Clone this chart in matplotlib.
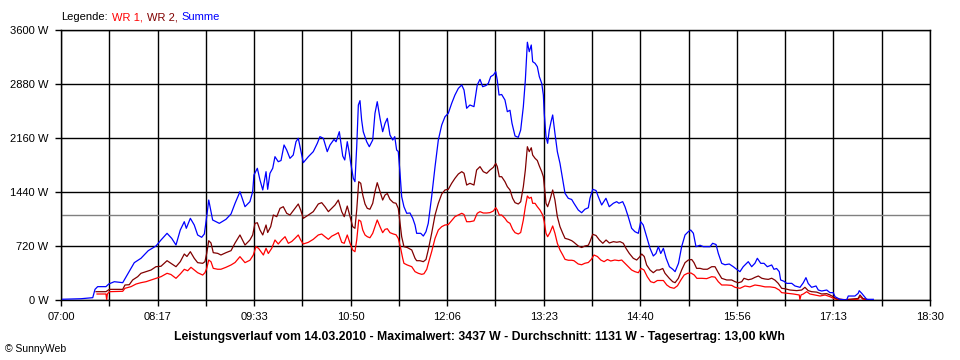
import matplotlib
matplotlib.use("Agg")
import matplotlib.pyplot as plt
from matplotlib.offsetbox import TextArea, HPacker, AnchoredOffsetbox
import numpy as np

plt.rcParams['font.family'] = ['Liberation Sans', 'DejaVu Sans']

##Data (times in minutes after 07:00, power in W)
time_labels = ["07:00", "08:17", "09:33", "10:50", "12:06", "13:23", "14:40", "15:56", "17:13", "18:30"]
day_span = 690  # 07:00 -> 18:30
average = 1131  # Durchschnitt, W

t_sum = [1.3, 15.9, 25.2, 27, 29.1, 35.7, 37.9, 42.3, 49, 53,
         58.2, 63.5, 69.3, 75.4, 79.4, 84.2, 87.9, 91.3, 94.7, 97.9,
         99.5, 102.7, 105.8, 108.5, 111.7, 113.8, 115.7, 117.3, 120.4, 125.7,
         131, 135, 138.2, 142.1, 146.1, 150, 152.2, 153.2, 155.9, 158,
         160.2, 162.8, 164.1, 165.9, 168.1, 169.9, 172.5, 174.7, 177.1, 179.2,
         181.8, 184.4, 186.6, 188.4, 190.3, 192.4, 196.4, 200.3, 203.5, 205.6,
         208.3, 211.4, 213.6, 216.8, 218.4, 221, 223.7, 225.3, 227.3, 228.7,
         230, 232.1, 233.4, 234.8, 236.1, 237.4, 238.7, 240, 242.7, 244.8,
         247.5, 249.3, 251.1, 253.3, 255.4, 257.3, 259.1, 261.2, 263.4, 265,
         266.5, 267.8, 269.2, 270.5, 272.3, 274.5, 277.1, 279.3, 281.1, 282.4,
         285.6, 287.7, 289.8, 291.6, 294.3, 297, 299.6, 302.3, 304.9, 307.5,
         310.2, 312.8, 315.5, 318.2, 320, 322.1, 324.7, 327.9, 330.5, 332.7,
         334.8, 337.5, 339.3, 341.2, 343.3, 345.2, 346.4, 347.8, 349.9, 352.5,
         354.4, 356.5, 358.1, 360.5, 363.1, 365, 367.1, 368.7, 370.3, 371.8,
         373.4, 374.5, 376.4, 378.2, 379.8, 381.7, 383, 383.7, 385.1, 386.4,
         387.7, 389.1, 390.4, 392.2, 394.1, 396.2, 398.4, 400.2, 402.8, 405.5,
         407.3, 410.7, 413.4, 416, 418.7, 420, 422.2, 424.8, 426.6, 429.3,
         432.7, 435.3, 438.6, 441.2, 443, 446, 447.8, 450.4, 453.1, 455.7,
         458.4, 460.3, 462.3, 465, 467.7, 470.3, 472.4, 474.3, 476.2, 478.3,
         480.5, 483.1, 485.8, 487.6, 490.3, 492.8, 495.5, 498.1, 500, 502.1,
         504.2, 507.4, 510, 512.7, 515.3, 517.4, 520.1, 521.9, 524.6, 527.2,
         530.6, 533.8, 536.5, 539.1, 541.7, 543.1, 545.7, 548.4, 551, 552.9,
         555.6, 558.2, 560.8, 564.3, 566.1, 568.2, 570.3, 571.4, 574, 576.2,
         580.2, 582.8, 586.8, 589.4, 591.5, 593.3, 596, 599.5, 601.3, 604,
         608, 610.6, 613.2, 614.6, 618.5, 623.8, 625.1, 630.4, 633, 633.8,
         635.8, 637.6, 639.7, 645]
p_sum = [10, 17, 31, 142, 178, 178, 213, 244, 231, 347,
         498, 556, 658, 720, 800, 889, 822, 733, 933, 1044,
         956, 1089, 1000, 867, 836, 880, 1111, 1333, 1067, 1022,
         1076, 1147, 1289, 1444, 1244, 1311, 1444, 1667, 1756, 1600,
         1467, 1711, 1476, 1689, 1756, 1911, 1844, 1860, 2067, 2000,
         1889, 1933, 2111, 2156, 2000, 1831, 1911, 1978, 2089, 2178,
         2156, 1978, 2067, 2142, 2110, 2244, 1920, 1867, 2111, 1980,
         1831, 1622, 1578, 2044, 2600, 2658, 2400, 2244, 2111, 2044,
         2133, 2489, 2644, 2422, 2244, 2356, 2422, 2200, 2133, 2178,
         2000, 1980, 1689, 1378, 1244, 1156, 1160, 1089, 1000, 889,
         889, 853, 911, 1022, 1378, 1778, 2133, 2333, 2444, 2489,
         2622, 2733, 2822, 2867, 2800, 2556, 2600, 2578, 2867, 2942,
         2844, 2860, 2889, 2978, 3000, 3044, 2933, 2733, 2740, 2667,
         2511, 2530, 2356, 2187, 2169, 2267, 2578, 2933, 3437, 3311,
         3400, 3178, 3156, 3111, 2978, 2889, 2733, 2489, 2178, 2089,
         2267, 2378, 2467, 2222, 1978, 1822, 1600, 1422, 1356, 1340,
         1289, 1200, 1164, 1210, 1230, 1356, 1476, 1460, 1378, 1267,
         1356, 1244, 1290, 1311, 1290, 1311, 1244, 1111, 956, 911,
         889, 1044, 1000, 844, 689, 587, 620, 711, 620, 689,
         556, 444, 409, 378, 489, 711, 867, 911, 933, 890,
         711, 730, 711, 711, 711, 756, 740, 622, 489, 470,
         480, 444, 409, 378, 444, 467, 511, 444, 490, 556,
         489, 489, 444, 467, 409, 420, 378, 267, 250, 222,
         222, 187, 169, 230, 298, 220, 169, 187, 133, 120,
         133, 98, 98, 44, 9, 0, 53, 53, 89, 124,
         89, 53, 9, 9]

t_wr2 = [27.8, 35.7, 38.4, 49, 50.8, 54.2, 56.9, 60.9, 63.5, 67.5,
         71.5, 75.4, 79.4, 84.2, 87.3, 91.3, 94.7, 97.9, 100, 102.7,
         105.8, 108.5, 112.5, 114.3, 115.7, 117.3, 119.1, 120.9, 124.4, 127,
         131, 135, 138.2, 142.1, 146.1, 150, 152.2, 154, 155.9, 158,
         160.2, 162.8, 164.1, 166.5, 168.6, 171.3, 173.9, 176.5, 179.2, 181.8,
         185.8, 188.4, 190.3, 192.4, 196.4, 200.3, 204.3, 207, 209.6, 212.3,
         214.9, 217.6, 220.2, 222.9, 224.9, 227.3, 229.5, 231.6, 233.4, 234.8,
         236.4, 238, 239.6, 241.4, 243.2, 245.3, 247.5, 249.3, 251.1, 253.3,
         255.4, 257.3, 259.1, 261.2, 263.9, 266, 267.8, 269.2, 270.5, 272.3,
         274.9, 278.5, 281.1, 282.4, 285, 287.7, 289.8, 291.6, 294.3, 297,
         299.6, 302.3, 304.9, 307.5, 310.2, 312.8, 315.5, 318.2, 320, 322.1,
         324.7, 327.9, 330, 332.7, 335.3, 338, 340.6, 343.3, 345.2, 346.4,
         348, 349.9, 352.5, 354.4, 356.5, 358.6, 360.5, 363.1, 365, 367.1,
         368.7, 370.3, 371.8, 373.4, 374.5, 376.4, 378.2, 379.8, 381.7, 383,
         383.7, 385.1, 386.4, 388.2, 390.4, 392.2, 394.1, 396.2, 398.4, 400.2,
         402.8, 405.5, 407.3, 410.7, 413.4, 416, 418.7, 420, 422.2, 424.8,
         427.5, 430.2, 432.8, 435.4, 438.6, 441.3, 443.9, 446.5, 448.6, 451.2,
         454.4, 457.1, 459.2, 461.1, 463.1, 465, 467.7, 470.3, 473, 475.1,
         477.8, 479.6, 483, 485.7, 487.6, 490.2, 492.8, 495.5, 498.1, 500.8,
         502.6, 504.7, 507.4, 510, 513.2, 516.7, 519.3, 521.9, 524.6, 528.6,
         532.5, 535.2, 537.8, 540.5, 542.3, 545.7, 548.4, 551, 553.7, 556.4,
         559, 561.6, 564.3, 566.9, 569.5, 572.2, 574.9, 578.8, 584.2, 588.1,
         590.7, 593.3, 596, 600, 604, 608, 610.6, 613.2, 615.9, 622.5,
         632.9, 634.4, 636.8, 640.8]
p_wr2 = [111, 111, 142, 142, 200, 204, 267, 311, 356, 378,
         400, 444, 450, 524, 489, 444, 511, 613, 580, 644,
         556, 498, 489, 511, 622, 791, 760, 631, 622, 600,
         631, 658, 760, 867, 733, 800, 867, 1022, 1030, 933,
         867, 1000, 900, 978, 1133, 1111, 1222, 1244, 1156, 1133,
         1222, 1280, 1200, 1089, 1133, 1178, 1280, 1298, 1244, 1178,
         1222, 1267, 1333, 1178, 1111, 1253, 1111, 978, 956, 1200,
         1578, 1556, 1400, 1280, 1222, 1210, 1289, 1444, 1564, 1444,
         1333, 1400, 1420, 1342, 1298, 1290, 1222, 1020, 844, 711,
         700, 667, 556, 524, 524, 511, 540, 667, 889, 1133,
         1289, 1413, 1467, 1475, 1556, 1622, 1680, 1711, 1690, 1533,
         1556, 1533, 1733, 1778, 1711, 1689, 1733, 1769, 1822, 1780,
         1644, 1644, 1578, 1511, 1467, 1356, 1298, 1280, 1310, 1511,
         1733, 2044, 1978, 2030, 1933, 1889, 1860, 1787, 1711, 1644,
         1533, 1289, 1244, 1333, 1467, 1333, 1111, 978, 889, 822,
         810, 791, 769, 720, 700, 720, 730, 778, 876, 860,
         800, 756, 800, 760, 778, 770, 778, 756, 689, 622,
         556, 533, 570, 613, 580, 467, 400, 364, 400, 400,
         420, 356, 289, 244, 231, 289, 400, 498, 533, 540,
         498, 422, 422, 410, 410, 444, 444, 364, 289, 267,
         267, 244, 230, 244, 289, 270, 280, 302, 320, 290,
         280, 275, 290, 265, 222, 156, 150, 133, 125, 133,
         169, 125, 111, 105, 80, 85, 67, 44, 13, 5,
         20, 67, 20, 5]

t_wr1 = [28.6, 35.7, 36.3, 36.8, 38.4, 49, 50.8, 55.6, 59.6, 63.5,
         67.5, 71.5, 75.4, 79.4, 84.2, 87.3, 91.3, 94.7, 97.9, 100.6,
         103.2, 105.8, 108.5, 112.5, 114.3, 115.7, 117.3, 119.1, 120.9, 124.4,
         127, 131, 135, 138.2, 142.1, 146.1, 150, 152.7, 154.8, 156.8,
         159.4, 160.7, 162.8, 164.6, 167.3, 169.9, 172.5, 175.2, 177.9, 180.5,
         183.2, 185.8, 188.4, 190.3, 192.4, 196.4, 200.3, 204.3, 207, 209.6,
         212.3, 214.9, 218.4, 220.2, 222.9, 224.9, 227.3, 229.5, 231.6, 233.4,
         234.8, 236.4, 238, 239.6, 241.4, 243.2, 245.3, 247.5, 249.3, 251.1,
         253.3, 255.4, 257.3, 259.1, 261.2, 263.9, 266, 267.8, 269.7, 271.3,
         272.3, 274.9, 278.5, 281.1, 283.7, 286.4, 288.2, 290.4, 292.4, 294.3,
         297, 299.6, 302.3, 304.9, 307.5, 310.2, 312.8, 315.5, 318.2, 320,
         322.1, 324.7, 327.9, 330.5, 332.7, 335.3, 338, 340.6, 343.3, 345.2,
         346.4, 348, 349.9, 352.5, 354.4, 356.5, 358.6, 360.5, 363.1, 365,
         367.1, 368.7, 370.3, 371.8, 373.4, 374.5, 376.4, 378.2, 380.3, 382.5,
         383.7, 385.1, 386.4, 388.3, 390.4, 392.2, 394.1, 396.2, 398.4, 400.2,
         402.8, 405.5, 407.3, 410.7, 413.4, 416, 418.7, 421.1, 423.2, 425.9,
         428.6, 431.2, 433.9, 436.5, 439.7, 442.9, 445.2, 447.8, 450.4, 453.1,
         455.7, 458.4, 460.5, 462.9, 465.5, 468.2, 470.8, 473.5, 476.2, 478.3,
         481, 483.6, 486.8, 489.5, 492.2, 494.8, 497.5, 500.2, 502.8, 504.9,
         508.9, 512.7, 516.7, 519.3, 521.9, 524.6, 528.6, 532.5, 535.2, 539.1,
         543.1, 547, 551, 555, 559, 563, 567, 570.3, 572.2, 576.2,
         581.5, 586.2, 586.7, 587.6, 589.4, 592.1, 594.7, 598.7, 602.7, 606.7,
         610.6, 614.6, 622.5, 632.9, 634.4, 636.8, 640.8]
p_wr1 = [80, 80, 0, 80, 111, 116, 156, 178, 213, 231,
         244, 267, 289, 311, 356, 340, 289, 347, 409, 390,
         436, 400, 364, 333, 364, 422, 533, 510, 422, 410,
         410, 436, 467, 500, 578, 498, 530, 600, 711, 690,
         631, 600, 690, 620, 689, 800, 747, 800, 844, 756,
         780, 822, 867, 800, 747, 769, 809, 867, 880, 844,
         809, 850, 880, 898, 769, 756, 867, 756, 667, 644,
         800, 1067, 1050, 933, 867, 844, 830, 889, 978, 1067,
         978, 898, 942, 950, 898, 880, 870, 822, 689, 556,
         489, 467, 444, 378, 356, 342, 350, 409, 533, 644,
         822, 933, 978, 1000, 1005, 1058, 1111, 1133, 1156, 1140,
         1044, 1044, 1055, 1156, 1178, 1160, 1160, 1165, 1187, 1231,
         1200, 1133, 1133, 1089, 1044, 1022, 942, 898, 880, 900,
         1067, 1244, 1387, 1356, 1370, 1289, 1289, 1244, 1200, 1133,
         1044, 889, 844, 900, 987, 889, 756, 667, 600, 542,
         530, 530, 524, 480, 470, 490, 500, 542, 600, 580,
         533, 511, 540, 520, 533, 525, 533, 489, 444, 400,
         378, 364, 422, 400, 311, 244, 231, 260, 260, 260,
         200, 169, 156, 190, 267, 333, 356, 360, 333, 289,
         289, 285, 311, 305, 244, 200, 200, 195, 169, 156,
         187, 175, 200, 190, 175, 175, 165, 133, 98, 90,
         80, 67, 5, 67, 80, 111, 80, 67, 53, 67,
         44, 13, 3, 10, 45, 10, 3]

title = ("Leistungsverlauf vom 14.03.2010 - Maximalwert: 3437 W - "
         "Durchschnitt: 1131 W - Tagesertrag: 13,00 kWh")

##Plot
fig = plt.figure(figsize=(9.6, 3.6), dpi=100)
ax = fig.add_axes([61/960, 60/360, 869/960, 270/360])

ax.axhline(average, color='#808080', lw=1, zorder=2)
ax.plot(t_wr1, p_wr1, color='#ff0000', lw=0.9, zorder=3)
ax.plot(t_wr2, p_wr2, color='#800000', lw=0.9, zorder=4)
ax.plot(t_sum, p_sum, color='#0000ff', lw=0.9, zorder=5)

ax.set_xlim(0, day_span)
ax.set_ylim(0, 3600)
ax.set_xticks(np.linspace(0, day_span, len(time_labels)))
ax.set_xticklabels(time_labels)
ax.set_xticks(np.linspace(0, day_span, 2*len(time_labels) - 1), minor=True)
y_ticks = np.arange(0, 3601, 720)
ax.set_yticks(y_ticks)
ax.set_yticklabels([f"{v} W" for v in y_ticks])

ax.grid(True, which='both', color='black', lw=1, zorder=1)
ax.set_axisbelow(True)
for s in ax.spines.values():
    s.set_color('black')
    s.set_linewidth(1)
ax.tick_params(which='both', direction='out', length=4, width=1, labelsize=8, pad=5, colors='black')

#Legend line with coloured words
parts = [("Legende:", 'black'), ("WR 1,", '#ff0000'), ("WR 2,", '#800000'), ("Summe", '#0000ff')]
boxes = [TextArea(txt, textprops=dict(color=c, size=8)) for txt, c in parts]
legend = AnchoredOffsetbox(loc='center left', child=HPacker(children=boxes, sep=3, pad=0),
                           bbox_to_anchor=(61/960, 1 - 17/360), bbox_transform=fig.transFigure,
                           frameon=False, pad=0, borderpad=0)
fig.add_artist(legend)

fig.text(0.4995, 1 - 337/360, title, ha='center', va='center', fontsize=8.8, fontweight='bold')
fig.text(5/960, 1 - 349/360, "\u00a9 SunnyWeb", ha='left', va='center', fontsize=7.5)

fig.savefig('out.png', dpi=100)
